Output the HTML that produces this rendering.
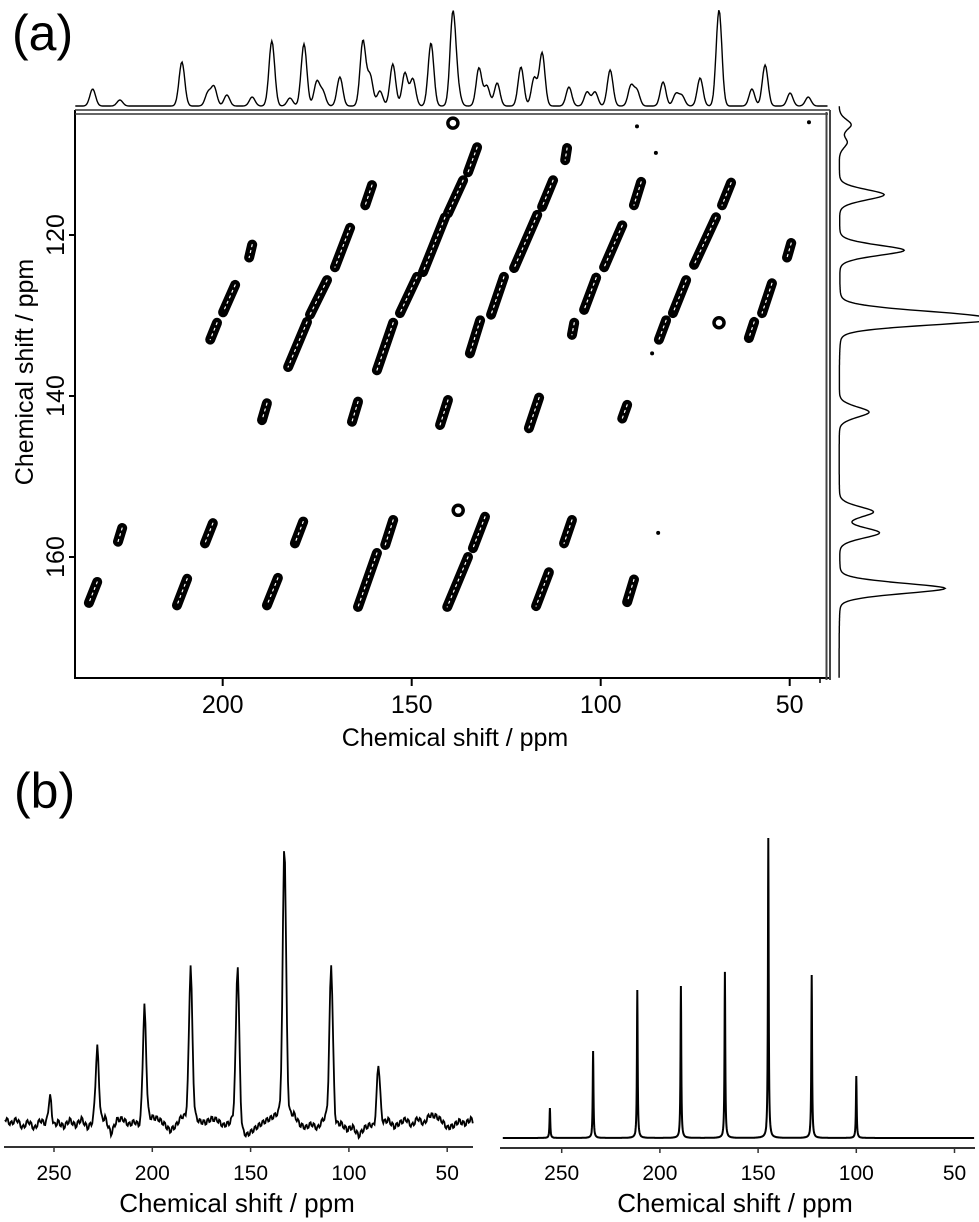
<!DOCTYPE html>
<html><head><meta charset="utf-8">
<style>
html,body{margin:0;padding:0;background:#fff;}
svg{display:block;font-family:"Liberation Sans",sans-serif;}
</style></head>
<body>
<svg id="fig" width="979" height="1222" viewBox="0 0 979 1222" xmlns="http://www.w3.org/2000/svg">
<text x="12" y="50" font-size="50">(a)</text>
<text x="14" y="808" font-size="50">(b)</text>
<g id="a2d"></g>
<g id="bl"></g>
<g id="br"></g>
</svg>
<script>
// ---------- Panel (a) data ----------
const aXTicks = [200, 150, 100, 50];
const aYTicks = [120, 140, 160];
const topPpm = [234.4,227.2,210.8,203.9,202.3,198.9,192.2,187.0,182.2,178.5,175.1,173.5,169.0,162.9,161.0,158.4,155.0,151.8,149.7,144.9,139.1,137.8,132.2,130.1,127.4,121.1,117.6,115.5,108.4,103.6,101.5,97.5,92.0,90.4,83.5,80.1,78.5,73.7,68.7,60.0,56.5,49.9,45.1];
const topInt = [17,6,44,13,19,11,9,65,8,62,24,14,29,65,30,15,42,33,27,63,92,15,38,20,23,39,28,53,19,14,14,36,20,15,24,12,10,28,96,17,41,13,9];
const sidePpm = [106.3,108.5,115.0,121.9,129.7,130.6,142.0,154.4,157.0,163.9];
const sideInt = [12,8,45,65,60,128,30,34,40,106];
const segF2a = [132.7,136.4,141.2,148.6,154.9,160.5,166.3,172.4,177.7,192.2,196.7,201.5,108.9,112.6,116.8,125.6,89.3,94.3,101.2,107.0,65.5,69.5,77.4,82.7,49.6,54.7,59.4,131.9,188.3,164.2,140.4,116.3,93.0,226.6,202.6,178.7,154.9,130.6,107.6,233.2,209.4,185.4,159.2,135.1,113.7,91.2];
const segF1a = [109.1,113.2,117.8,125.2,130.9,113.8,119.1,125.6,130.8,121.2,126.2,130.9,109.2,113.2,117.5,125.2,113.4,118.8,125.3,130.9,113.5,117.8,125.6,130.6,121.0,126.0,130.8,130.6,140.9,140.7,140.5,140.2,141.1,156.4,155.8,155.6,155.4,155.0,155.4,163.1,162.7,162.6,159.5,160.0,161.9,162.8];
const segF2b = [135.1,140.4,147.0,153.1,159.2,162.3,170.3,176.9,182.7,193.0,199.9,203.3,109.4,115.5,122.9,129.0,91.2,99.1,104.4,107.6,67.9,75.3,80.9,84.6,50.7,57.3,60.8,134.6,189.6,165.8,142.5,119.0,94.3,227.7,204.7,180.9,157.0,133.8,109.7,235.4,212.1,188.3,164.2,140.6,117.1,93.0];
const segF1b = [112.2,117.3,124.6,129.7,136.8,116.3,124.0,129.9,136.4,122.8,129.6,133.0,110.7,116.5,124.1,129.9,116.3,124.0,129.3,132.4,116.3,123.7,129.7,133.0,122.8,129.7,132.8,134.7,143.0,143.2,143.6,144.0,142.8,158.1,158.3,158.3,158.5,158.9,158.3,165.7,166.0,166.0,166.2,166.2,166.1,165.6];
const ringF2 = [139.1,68.7,137.7];
const ringF1 = [106.1,130.9,154.2];
const dotF2 = [90.4,44.9,85.4,86.4,84.8];
const dotF1 = [106.5,106.0,109.8,134.7,157.0];

// ---------- Panel (b) data ----------
const bTicks = [250, 200, 150, 100, 50];
const expPpm = [252,228,204,180.5,156.6,132.8,109,85];
const expInt = [32,77,117,155,161,275,156,64];
const expNoise = [4,-2,3,-6,1,-7,2,-3,-8,0,-5,2,-4,3,-6,-1,-2,4,-12,2,3,-3,0,-6,2,4,3,-2,-9,-4,5,3,4,0,-1,3,2,-4,-2,4,-10,-14,-9,-4,0,3,6,8,5,7,-3,-6,-2,-7,2,6,-4,-2,-8,-5,-14,-6,-3,-8,-2,2,-5,-1,3,-4,4,-2,7,6,2,-6,-4,1,-2,3,-4,-1];
const simPpm = [256,234,211.5,189.3,166.9,144.8,122.7,100];
const simInt = [30,87,148,152,166,300,163,62];

// ---------- scales ----------
const NS = 'http://www.w3.org/2000/svg';
function mk(tag, attrs, parent){const e=document.createElementNS(NS,tag);for(const k in attrs)e.setAttribute(k,attrs[k]);parent.appendChild(e);return e;}
const aX = p => 222.7 + (200 - p) * 3.78;
const aY = p => 235 + (p - 120) * 8.05;
const blX = p => 54 + (250 - p) * 1.966;
const brX = p => 561.7 + (250 - p) * 1.964;
const lor = (x, x0, w) => 1 / (1 + ((x - x0) / w) ** 2);
const gau = (x, x0, s) => Math.exp(-0.5 * ((x - x0) / s) ** 2);
const shape = (x, x0, s) => 0.8 * gau(x, x0, s) + 0.2 * lor(x, x0, s * 0.8);

// ---------- Panel (a) ----------
const A = document.getElementById('a2d');
let fr;
fr = mk('line',{x1:75,y1:110,x2:75,y2:679,stroke:'#000','stroke-width':2},A);


fr = mk('line',{x1:74,y1:678,x2:829,y2:678,stroke:'#000','stroke-width':2},A);


fr = mk('path',{d:'M75 110H830M75 114H828',stroke:'#333','stroke-width':1.6,fill:'none'},A);


fr = mk('path',{d:'M826.5 112V680M830 110V680',stroke:'#444','stroke-width':2,fill:'none'},A);


aXTicks.forEach(v=>{
  const t=mk('line',{x1:aX(v),y1:678,x2:aX(v),y2:686,stroke:'#000','stroke-width':2},A);
  
  
  const l=mk('text',{x:aX(v),y:713,'font-size':25,'text-anchor':'middle'},A);l.textContent=v;
  
  
});
mk('line',{x1:820,y1:678,x2:820,y2:683,stroke:'#000','stroke-width':1.5},A);
aYTicks.forEach(v=>{
  const t=mk('line',{x1:69,y1:aY(v),x2:75,y2:aY(v),stroke:'#000','stroke-width':2},A);
  
  
  const l=mk('text',{x:0,y:0,'font-size':25,'text-anchor':'middle',transform:`translate(64,${aY(v)}) rotate(-90)`},A);l.textContent=v;
  
  
});
let tt=mk('text',{x:455,y:746,'font-size':25,'text-anchor':'middle'},A);tt.textContent='Chemical shift / ppm';


tt=mk('text',{x:0,y:0,'font-size':25,'text-anchor':'middle',transform:'translate(33,372) rotate(-90)'},A);tt.textContent='Chemical shift / ppm';



// top projection
{
  let d='';
  for(let p=239;p>=40;p-=0.25){
    let s=0;for(let i=0;i<topPpm.length;i++)s+=topInt[i]*gau(p,topPpm[i],0.75);
    d+=(d?'L':'M')+aX(p).toFixed(1)+' '+(106-s).toFixed(1);
  }
  const pr=mk('path',{d:d,fill:'none',stroke:'#000','stroke-width':1.4},A);
  
  
}
// right projection
{
  let d='';
  for(let p=104;p<=175;p+=0.1){
    let s=3;for(let i=0;i<sidePpm.length;i++)s+=sideInt[i]*shape(p,sidePpm[i],0.7);
    d+=(d?'L':'M')+(836+s).toFixed(1)+' '+aY(p).toFixed(1);
  }
  const pr=mk('path',{d:d,fill:'none',stroke:'#000','stroke-width':1.4},A);
  
  
}
// cross peaks
for(let i=0;i<segF2a.length;i++){
  const x1=aX(segF2a[i]),y1=aY(segF1a[i]),x2=aX(segF2b[i]),y2=aY(segF1b[i]);
  const g=mk('g',{},A);
  
  
  mk('line',{x1:x1,y1:y1,x2:x2,y2:y2,stroke:'#000','stroke-width':10,'stroke-linecap':'round'},g);
  mk('line',{x1:x1,y1:y1,x2:x2,y2:y2,stroke:'#fff','stroke-width':1.2,'stroke-linecap':'round','stroke-dasharray':'2 4'},g);
}
for(let i=0;i<ringF2.length;i++){
  const c=mk('circle',{cx:aX(ringF2[i]),cy:aY(ringF1[i]),r:5,fill:'#fff',stroke:'#000','stroke-width':3.5},A);
  
  
}
for(let i=0;i<dotF2.length;i++){
  const c=mk('ellipse',{cx:aX(dotF2[i]),cy:aY(dotF1[i]),rx:2,ry:2,fill:'#000'},A);
  
  
}

// ---------- Panel (b) left ----------
const BL=document.getElementById('bl');
{
  let d='';
  for(let p=275;p>=37;p-=0.5){
    let s=0;for(let i=0;i<expPpm.length;i++)s+=expInt[i]*shape(p,expPpm[i],0.9);
    const k=(275-p)/3, i0=Math.floor(k), f=k-i0;
    const n=(expNoise[i0]??0)*(1-f)+(expNoise[i0+1]??0)*f;
    const j=((Math.round(p))%2===0)?2:-2;
    d+=(d?'L':'M')+blX(p).toFixed(1)+' '+(1122-s-n-j).toFixed(1);
  }
  const pr=mk('path',{d:d,fill:'none',stroke:'#000','stroke-width':1.8},BL);
  
  
  const ax=mk('line',{x1:4,y1:1147,x2:473,y2:1147,stroke:'#333','stroke-width':2},BL);
  
  
  bTicks.forEach(v=>{
    mk('line',{x1:blX(v),y1:1147,x2:blX(v),y2:1152,stroke:'#333','stroke-width':1.5},BL);
    const l=mk('text',{x:blX(v),y:1180,'font-size':21,'text-anchor':'middle'},BL);l.textContent=v;
    
    
  });
  const t=mk('text',{x:237,y:1212,'font-size':26,'text-anchor':'middle'},BL);t.textContent='Chemical shift / ppm';
  
  
}
// ---------- Panel (b) right ----------
const BR=document.getElementById('br');
{
  let d='';
  for(let p=280;p>=40;p-=0.1){
    let s=0;for(let i=0;i<simPpm.length;i++)s+=simInt[i]*lor(p,simPpm[i],0.22);
    d+=(d?'L':'M')+brX(p).toFixed(1)+' '+(1138-s).toFixed(1);
  }
  const pr=mk('path',{d:d,fill:'none',stroke:'#000','stroke-width':2},BR);
  
  
  const ax=mk('line',{x1:500,y1:1148,x2:975,y2:1148,stroke:'#333','stroke-width':2},BR);
  
  
  bTicks.forEach(v=>{
    mk('line',{x1:brX(v),y1:1148,x2:brX(v),y2:1153,stroke:'#333','stroke-width':1.5},BR);
    const l=mk('text',{x:brX(v),y:1180,'font-size':21,'text-anchor':'middle'},BR);l.textContent=v;
    
    
  });
  const t=mk('text',{x:735,y:1212,'font-size':26,'text-anchor':'middle'},BR);t.textContent='Chemical shift / ppm';
  
  
}
</script>
</body></html>
